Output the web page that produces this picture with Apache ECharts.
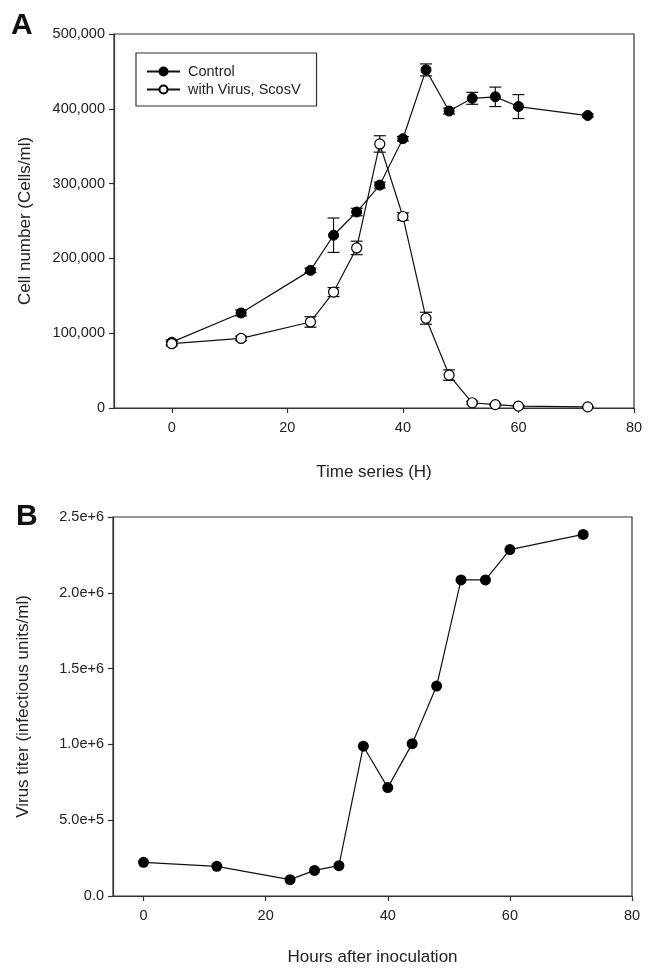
<!DOCTYPE html>
<html>
<head>
<meta charset="utf-8">
<script src="https://cdn.jsdelivr.net/npm/echarts@6/dist/echarts.min.js"></script>
<style>
html,body{margin:0;padding:0;background:#fff;}
#chart{width:654px;height:969px;}
</style>
</head>
<body>
<div id="chart"></div>
<script>
// ---- Panel A data ----
var hoursA = [0, 12, 24, 28, 32, 36, 40, 44, 48, 52, 56, 60, 72];
var controlMean = [88000, 127000, 184000, 231000, 262000, 298000, 360000, 452000, 397000, 414000, 416000, 403000, 391000];
var controlErr  = [3000, 4000, 3000, 23000, 5000, 4000, 3000, 8000, 4000, 8000, 13000, 16000, 2000];
var virusMean   = [86000, 93000, 115000, 155000, 214000, 353000, 256000, 120000, 44000, 7000, 4500, 2500, 1500];
var virusErr    = [3000, 3000, 7000, 6000, 9000, 11000, 5000, 8000, 7000, 2000, 1000, 1000, 500];
var yTicksA = [0, 100000, 200000, 300000, 400000, 500000];
var xTicks = [0, 20, 40, 60, 80];

// ---- Panel B data ----
var hoursB = [0, 12, 24, 28, 32, 36, 40, 44, 48, 52, 56, 60, 72];
var titer  = [222000, 196000, 108000, 169000, 200000, 988000, 715000, 1005000, 1385000, 2085000, 2085000, 2285000, 2385000];
var yTicksB = [0, 500000, 1000000, 1500000, 2000000, 2500000];

var FONT = '"Liberation Sans", Arial, Helvetica, sans-serif';
var TXT = '#222';
var AX = '#333';

function pairs(xs, ys) { return xs.map(function (x, i) { return [x, ys[i]]; }); }
function errData(xs, m, e) { return xs.map(function (x, i) { return [x, m[i] - e[i], m[i] + e[i]]; }); }

function errRender(params, api) {
  var x = api.value(0);
  var lo = api.coord([x, api.value(1)]);
  var hi = api.coord([x, api.value(2)]);
  var w = 6;
  var st = { stroke: '#111', lineWidth: 1.2 };
  return {
    type: 'group',
    children: [
      { type: 'line', shape: { x1: lo[0], y1: lo[1], x2: hi[0], y2: hi[1] }, style: st },
      { type: 'line', shape: { x1: lo[0] - w, y1: lo[1], x2: lo[0] + w, y2: lo[1] }, style: st },
      { type: 'line', shape: { x1: hi[0] - w, y1: hi[1], x2: hi[0] + w, y2: hi[1] }, style: st }
    ]
  };
}

function fmtComma(v) { return v.toString().replace(/\B(?=(\d{3})+(?!\d))/g, ','); }
function fmtSci(v) {
  if (v === 0) return '0.0';
  var ex = Math.floor(Math.log10(v) + 1e-9);
  var m = v / Math.pow(10, ex);
  return m.toFixed(1) + 'e+' + ex;
}

var axisCommon = {
  axisLine: { show: true, onZero: false, lineStyle: { color: AX, width: 1.2 } },
  axisTick: { show: true, inside: false, length: 5, lineStyle: { color: AX, width: 1.2 } },
  splitLine: { show: false },
  axisLabel: { color: TXT, fontFamily: FONT, fontSize: 14.5 },
  nameTextStyle: { color: TXT, fontFamily: FONT, fontSize: 17 }
};

function ax(extra) {
  var o = JSON.parse(JSON.stringify(axisCommon));
  for (var k in extra) {
    if (typeof extra[k] === 'object' && extra[k] !== null && !Array.isArray(extra[k]) && o[k]) {
      for (var kk in extra[k]) o[k][kk] = extra[k][kk];
    } else o[k] = extra[k];
  }
  return o;
}

var chart = echarts.init(document.getElementById('chart'), null, { renderer: 'canvas' });

var option = {
  backgroundColor: '#fff',
  animation: false,
  grid: [
    { left: 114, top: 34, width: 520, height: 374, show: true, borderColor: AX, borderWidth: 1.2, backgroundColor: 'transparent' },
    { left: 113, top: 517, width: 519, height: 379, show: true, borderColor: AX, borderWidth: 1.2, backgroundColor: 'transparent' }
  ],
  xAxis: [
    ax({ type: 'value', gridIndex: 0, min: -10, max: 80,
      name: 'Time series (H)', nameLocation: 'middle', nameGap: 56,
      axisTick: { customValues: xTicks },
      axisLabel: { customValues: xTicks, margin: 12 } }),
    ax({ type: 'value', gridIndex: 1, min: -5, max: 80,
      name: 'Hours after inoculation', nameLocation: 'middle', nameGap: 53,
      axisTick: { customValues: xTicks },
      axisLabel: { customValues: xTicks, margin: 12 } })
  ],
  yAxis: [
    ax({ type: 'value', gridIndex: 0, min: 0, max: 500000, interval: 100000,
      name: 'Cell number (Cells/ml)', nameLocation: 'middle', nameGap: 80,
      axisTick: { customValues: yTicksA },
      axisLabel: { customValues: yTicksA, formatter: fmtComma, margin: 9 } }),
    ax({ type: 'value', gridIndex: 1, min: 0, max: 2500000, interval: 500000,
      name: 'Virus titer (infectious units/ml)', nameLocation: 'middle', nameGap: 81,
      axisTick: { customValues: yTicksB },
      axisLabel: { customValues: yTicksB, formatter: fmtSci, margin: 9 } })
  ],
  legend: {
    show: true,
    data: ['Control', 'with Virus, ScosV'],
    orient: 'vertical',
    left: 136, top: 53,
    padding: [11, 16, 9, 10],
    itemGap: 3,
    itemWidth: 33, itemHeight: 10,
    borderColor: '#333', borderWidth: 1.2,
    textStyle: { color: TXT, fontFamily: FONT, fontSize: 14.5, padding: [0, 0, 0, 3] }
  },
  graphic: [
    { type: 'text', left: 11, top: 11, style: { text: 'A', font: 'bold 30px ' + FONT, fill: '#111' } },
    { type: 'text', left: 16, top: 502, style: { text: 'B', font: 'bold 30px ' + FONT, fill: '#111' } }
  ],
  series: [
    { type: 'custom', xAxisIndex: 0, yAxisIndex: 0, renderItem: errRender, data: errData(hoursA, controlMean, controlErr), z: 2, silent: true },
    { type: 'custom', xAxisIndex: 0, yAxisIndex: 0, renderItem: errRender, data: errData(hoursA, virusMean, virusErr), z: 2, silent: true },
    { name: 'Control', type: 'line', xAxisIndex: 0, yAxisIndex: 0, data: pairs(hoursA, controlMean),
      symbol: 'circle', symbolSize: 10, lineStyle: { color: '#111', width: 1.2 },
      itemStyle: { color: '#000', borderColor: '#000', borderWidth: 1 }, z: 3 },
    { name: 'with Virus, ScosV', type: 'line', xAxisIndex: 0, yAxisIndex: 0, data: pairs(hoursA, virusMean),
      symbol: 'circle', symbolSize: 10, lineStyle: { color: '#111', width: 1.2 },
      itemStyle: { color: '#fff', borderColor: '#000', borderWidth: 1.2 }, z: 4 },
    { name: 'Titer', type: 'line', xAxisIndex: 1, yAxisIndex: 1, data: pairs(hoursB, titer),
      symbol: 'circle', symbolSize: 11, lineStyle: { color: '#111', width: 1.2 },
      itemStyle: { color: '#000' }, z: 3 }
  ]
};
chart.setOption(option);
</script>
</body>
</html>
